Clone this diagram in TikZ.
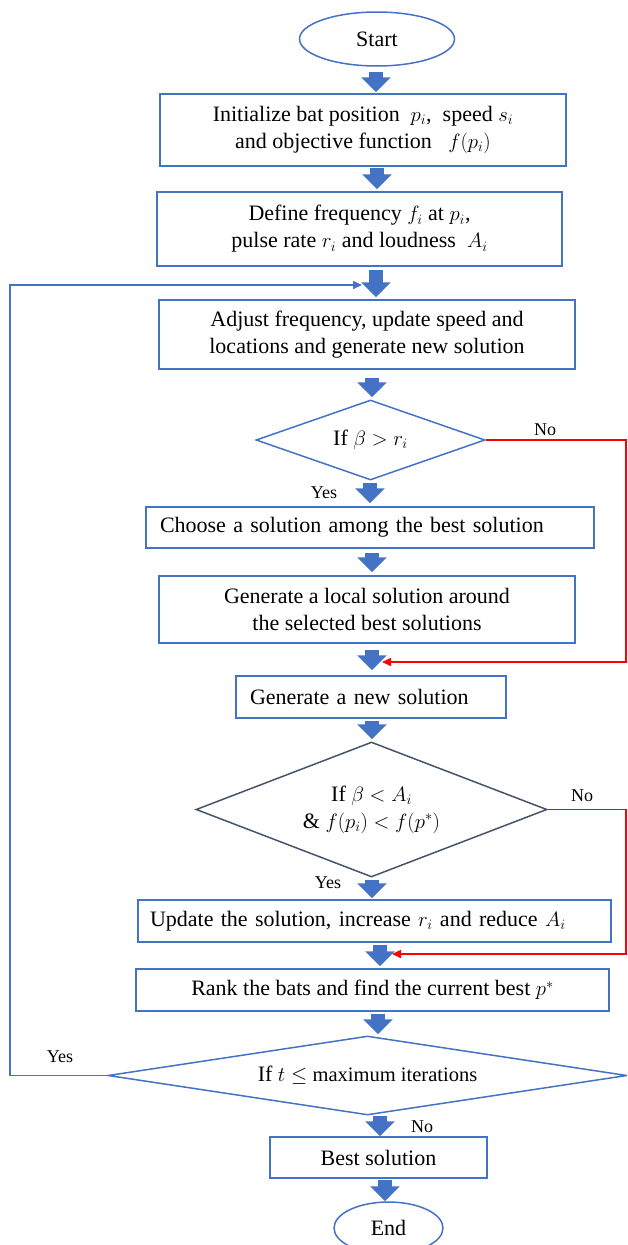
\documentclass[tikz,border=0pt]{standalone}
\usepackage{fontspec}
\setmainfont{Liberation Serif}
\usetikzlibrary{shapes.geometric,arrows.meta}
\definecolor{obl}{HTML}{4472C4}
\definecolor{obld}{HTML}{2F528F}
\definecolor{slate}{HTML}{44546A}
\definecolor{rd}{HTML}{FF0000}
\tikzset{
  box/.style={draw=obl, line width=1.5pt, rectangle, inner sep=0pt, align=center, font=\fontsize{22}{27}\selectfont},
  lbox/.style={box, align=left, inner xsep=14pt},
  dec/.style={draw=obl, line width=1.5pt, diamond, inner sep=0pt, align=center, font=\fontsize{22}{27}\selectfont},
  term/.style={draw=obl, line width=1.5pt, ellipse, inner sep=0pt, font=\fontsize{22}{27}\selectfont},
  barrow/.style={draw=obld, line width=14pt, -{Triangle[width=29pt,length=15pt,fill=obl]}, obl},
  fback/.style={draw=obl, line width=1.5pt, -{Triangle[width=8pt,length=9pt]}},
  nback/.style={draw=rd, line width=1.5pt, -{Triangle[width=8pt,length=9pt]}},
  lbl/.style={font=\fontsize{18}{22}\selectfont, inner sep=0pt}
}
\begin{document}
\begin{tikzpicture}[x=1pt,y=-1pt]
\useasboundingbox (0,0) rectangle (627,1245);
\clip (0,0) rectangle (627,1245);
% nodes
\node[term, minimum width=155pt, minimum height=54pt] (start) at (377,39) {Start};
\node[box, minimum width=406pt, minimum height=72pt] (b1) at (363,130)
  {Initialize bat position ~$p_i$, ~speed $s_i$\\ and objective function ~~$f(p_i)$};
\node[box, minimum width=405pt, minimum height=74pt] (b2) at (359.5,229)
  {Define frequency $f_i$ at $p_i$,\\ pulse rate $r_i$ and loudness ~$A_i$};
\node[box, minimum width=416pt, minimum height=69pt] (b3) at (367,334.5)
  {Adjust frequency, update speed and\\ locations and generate new solution};
\node[dec, aspect=2.86, minimum width=229pt, minimum height=80pt] (d1) at (370.5,440)
  {If $\beta > r_i$};
\node[lbox, text width=420pt, minimum width=448pt, minimum height=41pt] (b4) at (370,527.5)
  {Choose a solution among the best solution};
\node[box, minimum width=416pt, minimum height=67pt] (b5) at (367,609.5)
  {Generate a local solution around\\ the selected best solutions};
\node[lbox, text width=242pt, minimum width=270pt, minimum height=42pt] (b6) at (371,697)
  {Generate a new solution};
\node[dec, draw=slate, aspect=2.6, minimum width=351pt, minimum height=135pt] (d2) at (371.5,809.5)
  {If $\beta < A_i$\\ \& $f(p_i) < f(p^*)$};
\node[lbox, inner xsep=12pt, text width=449pt, minimum width=473pt, minimum height=42pt] (b7) at (374.5,921)
  {Update the solution, increase $r_i$ and reduce $A_i$};
\node[box, minimum width=473pt, minimum height=42pt] (b8) at (372.5,990)
  {Rank the bats and find the current best $p^*$};
\node[dec, aspect=6.57, minimum width=519pt, minimum height=79pt] (d3) at (367.5,1075.5)
  {If $t \leq$ {\fontsize{20.5}{24}\selectfont maximum iterations}};
\node[box, minimum width=217pt, minimum height=41pt] (b9) at (378.5,1157.5)
  {Best solution};
\node[term, minimum width=109pt, minimum height=52pt] (end) at (388.5,1228) {End};
% block arrows
\draw[barrow, shorten <=5pt, shorten >=1pt] ([xshift=-1pt]start.south) -- ([xshift=13pt]b1.north);
\draw[barrow, shorten <=1pt, shorten >=2pt] ([xshift=14pt]b1.south) -- ([xshift=17.5pt]b2.north);
\draw[barrow, shorten <=3pt, shorten >=2pt] ([xshift=16.5pt]b2.south) -- ([xshift=9pt]b3.north);
\draw[barrow, shorten <=8pt, shorten >=2pt] ([xshift=5pt]b3.south) -- ([xshift=1.5pt]d1.north);
\draw[barrow, shorten <=2pt, shorten >=3pt] ([xshift=-0.5pt]d1.south) -- (b4.north);
\draw[barrow, shorten <=4pt, shorten >=3pt] ([xshift=2pt]b4.south) -- ([xshift=5pt]b5.north);
\draw[barrow, shorten <=6pt, shorten >=5pt] ([xshift=5pt]b5.south) -- ([xshift=1pt]b6.north);
\draw[barrow, shorten <=2pt, shorten >=2pt] ([xshift=1pt]b6.south) -- ([xshift=0.5pt]d2.north);
\draw[barrow, shorten <=2pt, shorten >=1pt] ([xshift=0.5pt]d2.south) -- ([xshift=-2.5pt]b7.north);
\draw[barrow, shorten <=2pt, shorten >=2pt] ([xshift=5.5pt]b7.south) -- ([xshift=7.5pt]b8.north);
\draw[barrow, shorten <=2pt, shorten >=1pt] ([xshift=5.5pt]b8.south) -- ([xshift=10.5pt]d3.north);
\draw[barrow] ([xshift=12.5pt]d3.south) -- ([xshift=1.5pt]b9.north);
\draw[barrow, shorten <=1pt] ([xshift=6.5pt]b9.south) -- ([xshift=-3.5pt]end.north);
% loop back
\coordinate (lp) at (10,0);
\coordinate (a3) at (362,285);
\draw[fback] (d3.west) -- (d3.west -| lp) -- (a3 -| lp) -- (a3);
% No branches
\coordinate (rx) at (626,0);
\coordinate (a7) at (382,662);
\coordinate (a10) at (392,954);
\draw[nback] (d1.east) -- (d1.east -| rx) -- (a7 -| rx) -- (a7);
\draw[nback] (d2.east) -- (d2.east -| rx) -- (a10 -| rx) -- (a10);
% labels
\node[lbl] (no1) at (545,430) {No};
\node[lbl] (yes1) at (324,493) {Yes};
\node[lbl] (no2) at (582,796) {No};
\node[lbl] (yes2) at (328,883) {Yes};
\node[lbl] (yes3) at (60,1057) {Yes};
\node[lbl] (no3) at (422,1127) {No};
\end{tikzpicture}
\end{document}
